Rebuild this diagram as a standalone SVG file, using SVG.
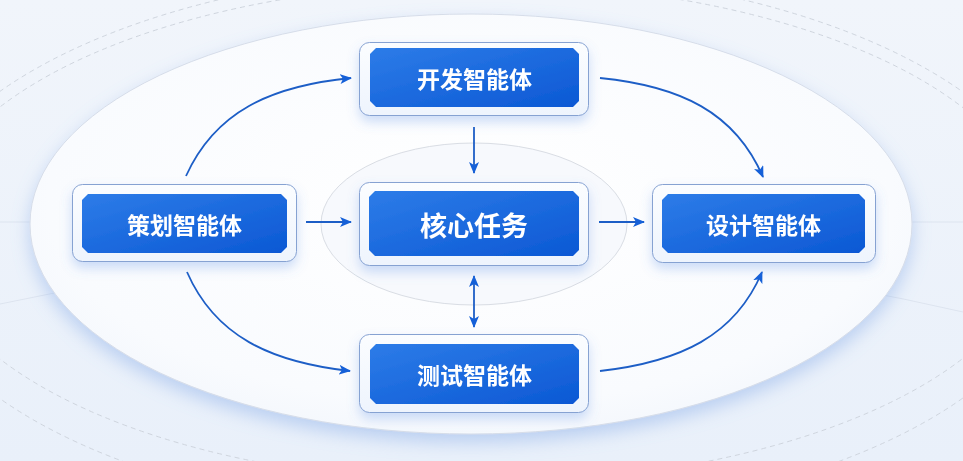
<svg xmlns="http://www.w3.org/2000/svg" width="963" height="461" viewBox="0 0 963 461">
  <defs>
    <linearGradient id="bg" x1="0" y1="0" x2="0" y2="1">
      <stop offset="0" stop-color="#f1f5fb"/>
      <stop offset="1" stop-color="#e9f0fa"/>
    </linearGradient>
    <radialGradient id="disc" cx="0.5" cy="0.45" r="0.6">
      <stop offset="0" stop-color="#ffffff"/>
      <stop offset="0.8" stop-color="#f9fbfe"/>
      <stop offset="1" stop-color="#f2f6fc"/>
    </radialGradient>
    <linearGradient id="blue" x1="0" y1="0" x2="1" y2="1">
      <stop offset="0" stop-color="#2d7ce8"/>
      <stop offset="1" stop-color="#0b58d4"/>
    </linearGradient>
    <linearGradient id="frame" x1="0" y1="0" x2="0" y2="1">
      <stop offset="0" stop-color="#fbfdff"/>
      <stop offset="1" stop-color="#eef4fd"/>
    </linearGradient>
    <filter id="discShadow" x="-10%" y="-10%" width="120%" height="130%">
      <feGaussianBlur in="SourceAlpha" stdDeviation="9"/>
      <feOffset dy="8" result="b"/>
      <feFlood flood-color="#7fa6e6" flood-opacity="0.45"/>
      <feComposite in2="b" operator="in"/>
      <feMerge><feMergeNode/><feMergeNode in="SourceGraphic"/></feMerge>
    </filter>
    <filter id="nodeShadow" x="-20%" y="-30%" width="140%" height="170%">
      <feGaussianBlur in="SourceAlpha" stdDeviation="6"/>
      <feOffset dy="6" result="b"/>
      <feFlood flood-color="#5b8fe6" flood-opacity="0.3"/>
      <feComposite in2="b" operator="in"/>
      <feMerge><feMergeNode/><feMergeNode in="SourceGraphic"/></feMerge>
    </filter>
    <marker id="ah" viewBox="0 0 12 10" refX="11" refY="5" markerWidth="12" markerHeight="10" markerUnits="userSpaceOnUse" orient="auto-start-reverse">
      <path d="M0,0 L12,5 L0,10 L3,5 Z" fill="#1560d8"/>
    </marker>
    <style>
      .frame { fill: url(#frame); stroke: #86a2d2; stroke-width: 1; }
      .chip { fill: url(#blue); }
      .lbl { fill: #ffffff; font-family: "Noto Sans CJK SC", "Noto Sans", sans-serif; font-weight: 700; font-size: 23px; text-anchor: middle; dominant-baseline: central; }
      .lbl.big { font-size: 27px; }
      .conn { fill: none; stroke: #1d5ec6; stroke-width: 1.8; marker-end: url(#ah); }
      .dash { fill: none; stroke: #cfd5de; stroke-width: 1; stroke-dasharray: 5 4; }
      .faint { fill: none; stroke: #dde4ef; stroke-width: 1; }
    </style>
  </defs>

  <!-- background -->
  <rect x="0" y="0" width="963" height="461" fill="url(#bg)"/>
  <line class="faint" x1="0" y1="222" x2="963" y2="222"/>
  <path class="faint" d="M0,304 Q481,200 963,312"/>
  <ellipse class="dash" cx="481" cy="233" rx="557" ry="250"/>
  <ellipse class="dash" cx="481" cy="245" rx="580" ry="275"/>

  <!-- main disc -->
  <ellipse cx="471" cy="224" rx="441" ry="210" fill="url(#disc)" stroke="#d6dde9" stroke-width="1" filter="url(#discShadow)"/>
  <!-- inner ring -->
  <ellipse cx="474" cy="224" rx="153" ry="81" fill="#f7f9fd" stroke="#d9dde4" stroke-width="1"/>

  <!-- connectors -->
  <g id="connectors">
    <path class="conn" d="M186,176 C215,112 270,86 351,78"/>
    <path class="conn" d="M600,78 C680,86 735,112 763,177"/>
    <path class="conn" d="M187,272 C215,336 270,362 350,371"/>
    <path class="conn" d="M600,371 C680,362 735,336 762,272"/>
    <path class="conn" d="M474,127 V173"/>
    <path class="conn" d="M474,276 V327" marker-start="url(#ah)"/>
    <path class="conn" d="M306,222 H351"/>
    <path class="conn" d="M599,222 H644"/>
  </g>

  <!-- nodes -->
  <g id="node-dev" filter="url(#nodeShadow)">
    <rect class="frame" x="359.5" y="42.5" width="229" height="73" rx="10"/>
    <path class="chip" d="M376,48 H573 L579,54 V101 L573,107 H376 L370,101 V54 Z"/>
    <text class="lbl" x="474.5" y="78">开发智能体</text>
  </g>
  <g id="node-plan" filter="url(#nodeShadow)">
    <rect class="frame" x="72.5" y="184.5" width="224" height="77" rx="10"/>
    <path class="chip" d="M88,194 H281 L287,200 V247 L281,253 H88 L82,247 V200 Z"/>
    <text class="lbl" x="184.5" y="224">策划智能体</text>
  </g>
  <g id="node-core" filter="url(#nodeShadow)">
    <rect class="frame" x="359.5" y="182.5" width="229" height="83" rx="10"/>
    <path class="chip" d="M375,191 H573 L579,197 V250 L573,256 H375 L369,250 V197 Z"/>
    <text class="lbl big" x="474" y="224">核心任务</text>
  </g>
  <g id="node-design" filter="url(#nodeShadow)">
    <rect class="frame" x="652.5" y="184.5" width="223" height="78" rx="10"/>
    <path class="chip" d="M668,194 H859 L865,200 V247 L859,253 H668 L662,247 V200 Z"/>
    <text class="lbl" x="763.5" y="224">设计智能体</text>
  </g>
  <g id="node-test" filter="url(#nodeShadow)">
    <rect class="frame" x="359.5" y="334.5" width="229" height="78" rx="10"/>
    <path class="chip" d="M376,344 H573 L579,350 V398 L573,404 H376 L370,398 V350 Z"/>
    <text class="lbl" x="474.5" y="374">测试智能体</text>
  </g>
</svg>
